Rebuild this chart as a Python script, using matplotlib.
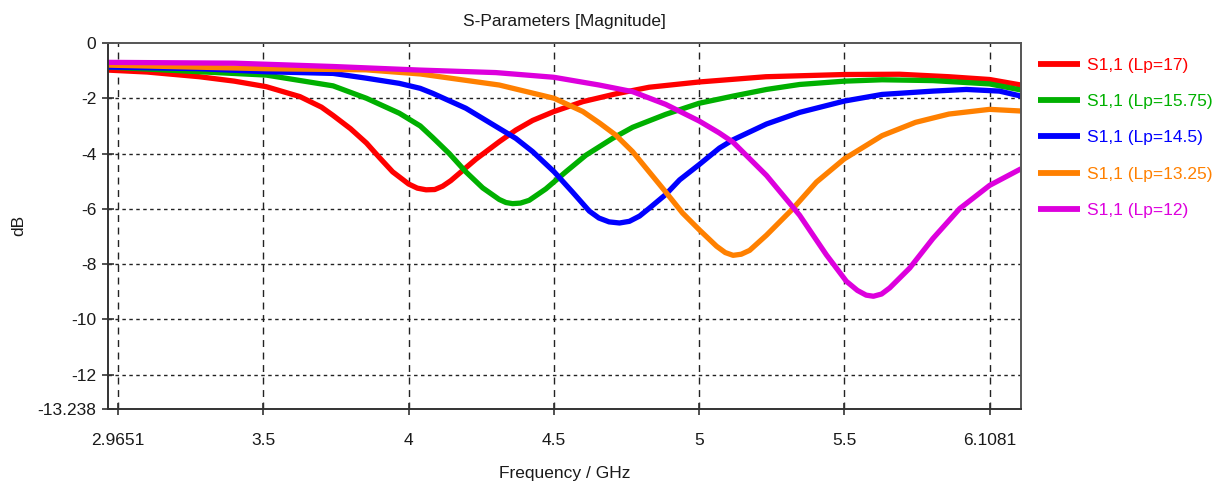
import matplotlib
matplotlib.use("Agg")
import matplotlib.pyplot as plt

plt.rcParams['font.family'] = ['Liberation Sans Narrow', 'Liberation Sans', 'DejaVu Sans']

# ---------------- data ----------------
f_red = [2.9651, 3.10, 3.28, 3.40, 3.51, 3.626, 3.70, 3.74, 3.80, 3.855, 3.90, 3.945, 4.00, 4.03, 4.06, 4.09,
         4.117, 4.145, 4.174, 4.232, 4.312, 4.369, 4.427, 4.50, 4.60, 4.713, 4.828, 5.00, 5.23, 5.50, 5.69,
         5.86, 6.00, 6.1081]
s_red = [-0.98, -1.05, -1.22, -1.38, -1.58, -1.94, -2.32, -2.62, -3.10, -3.62, -4.15, -4.66, -5.10, -5.25, -5.31, -5.30,
         -5.18, -4.98, -4.72, -4.20, -3.57, -3.15, -2.80, -2.48, -2.12, -1.84, -1.60, -1.41, -1.22, -1.14, -1.13,
         -1.22, -1.32, -1.52]

f_green = [2.9651, 3.28, 3.51, 3.74, 3.855, 3.968, 4.04, 4.083, 4.14, 4.197, 4.255, 4.312, 4.335, 4.358, 4.385,
           4.415, 4.472, 4.541, 4.61, 4.702, 4.771, 4.885, 5.00, 5.117, 5.232, 5.346, 5.50, 5.63, 5.805, 6.00, 6.1081]
s_green = [-0.87, -1.04, -1.16, -1.55, -2.00, -2.54, -3.00, -3.42, -4.00, -4.66, -5.24, -5.66, -5.77, -5.81, -5.79,
           -5.69, -5.28, -4.66, -4.06, -3.45, -3.05, -2.58, -2.18, -1.92, -1.68, -1.50, -1.38, -1.33, -1.36, -1.48, -1.70]

f_blue = [2.9651, 3.28, 3.51, 3.74, 3.853, 3.968, 4.04, 4.083, 4.197, 4.312, 4.369, 4.427, 4.501, 4.564, 4.622,
          4.655, 4.690, 4.726, 4.760, 4.795, 4.828, 4.885, 4.933, 5.00, 5.07, 5.117, 5.232, 5.346, 5.50, 5.63,
          5.805, 5.92, 6.034, 6.1081]
s_blue = [-0.87, -0.93, -1.04, -1.10, -1.27, -1.46, -1.64, -1.82, -2.36, -3.09, -3.45, -3.93, -4.66, -5.39, -6.08,
          -6.33, -6.47, -6.51, -6.45, -6.26, -5.98, -5.48, -4.95, -4.40, -3.80, -3.50, -2.93, -2.51, -2.10, -1.86,
          -1.74, -1.68, -1.74, -1.92]

f_orange = [2.9651, 3.51, 3.853, 4.04, 4.312, 4.501, 4.60, 4.658, 4.713, 4.771, 4.828, 4.885, 4.943, 5.00, 5.06,
            5.09, 5.117, 5.145, 5.174, 5.232, 5.323, 5.404, 5.50, 5.63, 5.745, 5.86, 6.00, 6.1081]
s_orange = [-0.80, -0.93, -0.97, -1.12, -1.52, -2.00, -2.48, -2.90, -3.33, -3.93, -4.66, -5.39, -6.15, -6.75, -7.35,
            -7.58, -7.68, -7.64, -7.50, -6.95, -5.99, -5.03, -4.19, -3.35, -2.87, -2.57, -2.40, -2.46]

f_magenta = [2.9651, 3.40, 3.74, 4.04, 4.30, 4.50, 4.656, 4.771, 4.885, 5.00, 5.069, 5.117, 5.232, 5.346, 5.438,
             5.507, 5.545, 5.575, 5.60, 5.628, 5.656, 5.725, 5.805, 5.897, 6.00, 6.1081]
s_magenta = [-0.70, -0.73, -0.85, -0.98, -1.07, -1.24, -1.52, -1.76, -2.22, -2.82, -3.25, -3.59, -4.79, -6.23, -7.66,
             -8.62, -8.95, -9.12, -9.16, -9.08, -8.86, -8.14, -7.07, -5.99, -5.15, -4.55]

series = [
    ("S1,1 (Lp=17)", f_red, s_red, "#FF0000"),
    ("S1,1 (Lp=15.75)", f_green, s_green, "#00B000"),
    ("S1,1 (Lp=14.5)", f_blue, s_blue, "#0000FF"),
    ("S1,1 (Lp=13.25)", f_orange, s_orange, "#FF8000"),
    ("S1,1 (Lp=12)", f_magenta, s_magenta, "#DD00DD"),
]

x_limits = [2.9651, 6.1081]
y_limits = [-13.238, 0]
xtick_pos = [3.0, 3.5, 4.0, 4.5, 5.0, 5.5, 6.0]
xtick_labels = ["2.9651", "3.5", "4", "4.5", "5", "5.5", "6.1081"]
ytick_pos = [0, -2, -4, -6, -8, -10, -12, -13.238]
ytick_labels = ["0", "-2", "-4", "-6", "-8", "-10", "-12", "-13.238"]

FS = 12.5

# ---------------- figure ----------------
fig = plt.figure(figsize=(12.24, 4.90), dpi=100)
ax = fig.add_axes([108 / 1224, 1 - 409 / 490, (1021 - 108) / 1224, (409 - 43) / 490])

for label, f, s, c in series:
    ax.plot(f, s, color=c, lw=3.8, label=label, solid_capstyle='butt', solid_joinstyle='round')

ax.set_xlim(*x_limits)
ax.set_ylim(*y_limits)
ax.set_xticks(xtick_pos)
ax.set_xticklabels(xtick_labels)
ax.set_yticks(ytick_pos)
ax.set_yticklabels(ytick_labels)

# grid
for xv in xtick_pos:
    ax.axvline(xv, color='#222222', lw=1.0, ls=(0, (5, 4)), zorder=0.5)
for yv in ytick_pos[1:-1]:
    ax.axhline(yv, color='#222222', lw=1.0, ls=(0, (2.5, 2.5)), zorder=0.5)

ax.tick_params(direction='inout', length=9, width=1.2, colors='#333333',
               labelsize=FS, labelcolor='#1a1a1a')
ax.tick_params(axis='x', pad=13)
ax.tick_params(axis='y', pad=4)
for sp in ax.spines.values():
    sp.set_color('#555555')
    sp.set_linewidth(1.4)
ax.spines['left'].set_color('#333333')
ax.spines['bottom'].set_color('#333333')

ax.set_title("S-Parameters [Magnitude]", fontsize=FS, color='#1a1a1a', pad=12)
ax.set_xlabel("Frequency / GHz", fontsize=FS, color='#1a1a1a', labelpad=13)
fig.text(19 / 1224, 1 - 225 / 490, "dB", rotation=90, fontsize=FS, color='#1a1a1a',
         ha='center', va='center')

leg = fig.legend(loc='upper left', bbox_to_anchor=(1038 / 1224, 1 - 58 / 490),
                 frameon=False, fontsize=FS, handlelength=2.4, handletextpad=0.4,
                 labelspacing=1.21, borderpad=0, borderaxespad=0, labelcolor='linecolor')
for h in leg.legend_handles:
    h.set_linewidth(4.2)

fig.savefig("out.png", dpi=100)
